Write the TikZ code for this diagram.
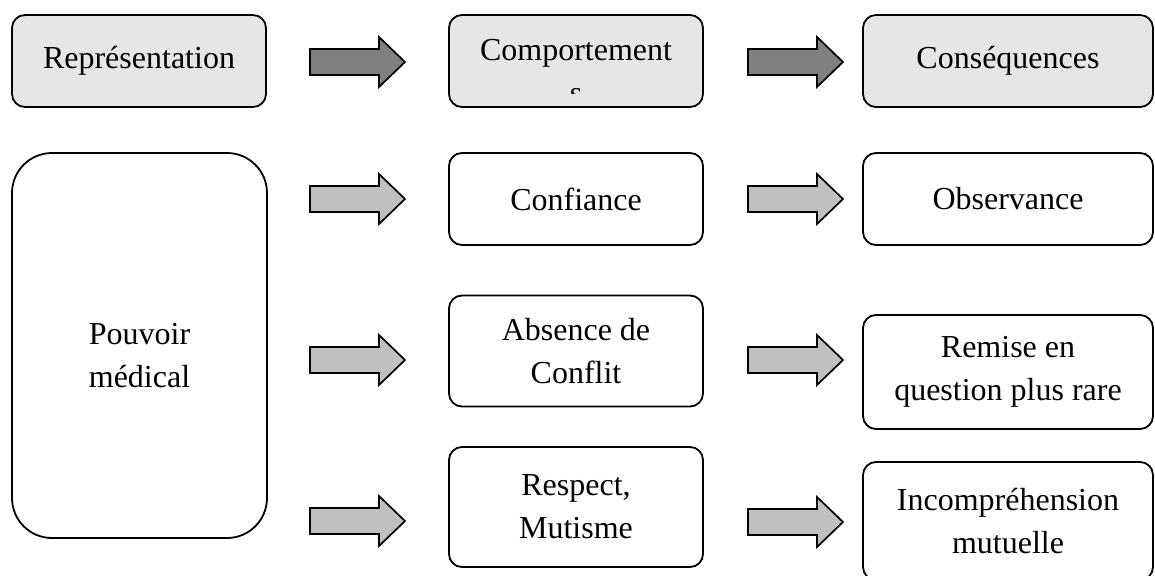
\documentclass[tikz,border=0pt]{standalone}
\usepackage{fontspec}
\setmainfont{Liberation Serif}
\definecolor{boxgray}{HTML}{E6E6E6}
\definecolor{darkarrow}{HTML}{808080}
\definecolor{lightarrow}{HTML}{C0C0C0}
\tikzset{
  blockarrow/.pic={\path[pic actions] (0,-13) -- (69,-13) -- (69,-25) -- (95,0) -- (69,25) -- (69,13) -- (0,13) -- cycle;}
}
\begin{document}
\begin{tikzpicture}[x=1pt,y=-1pt,
  txt/.style={font=\fontsize{32}{43}\selectfont},
  box/.style={draw=black, line width=1.8pt, rounded corners=13pt, inner sep=0pt, align=center, txt},
  topbox/.style={box, fill=boxgray},
  arrdark/.style={draw=black, line width=1.7pt, fill=darkarrow},
  arrlight/.style={draw=black, line width=1.7pt, fill=lightarrow}
]
\useasboundingbox (0,0) rectangle (1155,575);
\clip (0,0) rectangle (1155,575);

% top row
\node[topbox, minimum width=254pt, minimum height=92pt] (rep) at (139,61) {Représentation};
\node[topbox, minimum width=254pt, minimum height=92pt] (comp) at (576,61) {};
\node[txt, anchor=base] (compt) at (576,61) {Comportement};
\begin{scope}
  \clip (449,15) rectangle (703,94);
  \node[txt, anchor=base] (comps) at (576,104) {s};
\end{scope}
\node[topbox, minimum width=290pt, minimum height=92pt] (cons) at (1008,61) {Conséquences};

% left big box
\node[box, rounded corners=40pt, minimum width=255pt, minimum height=385pt] (pouv) at (139.5,345.5) {};
\node[txt, align=center] (pouvt) at (139.5,356) {Pouvoir\\médical};

% middle column
\node[box, minimum width=254pt, minimum height=92pt] (conf) at (576,199) {Confiance};
\node[box, minimum width=254pt, minimum height=111pt] (abs) at (576,351) {Absence de\\Conflit};
\node[box, minimum width=254pt, minimum height=120pt] (resp) at (576,507) {Respect,\\Mutisme};

% right column
\node[box, minimum width=290pt, minimum height=92pt] (obs) at (1008,199) {Observance};
\node[box, minimum width=290pt, minimum height=114pt] (rem) at (1008,372) {Remise en\\question plus rare};
\node[box, minimum width=290pt, minimum height=118pt] (inc) at (1008,521) {Incompréhension\\mutuelle};

% block arrows
\pic[arrdark] (a11) at (310,62) {blockarrow};
\pic[arrdark] (a12) at (748,62) {blockarrow};
\pic[arrlight] (a21) at (310,199) {blockarrow};
\pic[arrlight] (a22) at (748,199) {blockarrow};
\pic[arrlight] (a31) at (310,360) {blockarrow};
\pic[arrlight] (a32) at (748,360) {blockarrow};
\pic[arrlight] (a41) at (310,521) {blockarrow};
\pic[arrlight] (a42) at (748,522) {blockarrow};
\end{tikzpicture}
\end{document}
